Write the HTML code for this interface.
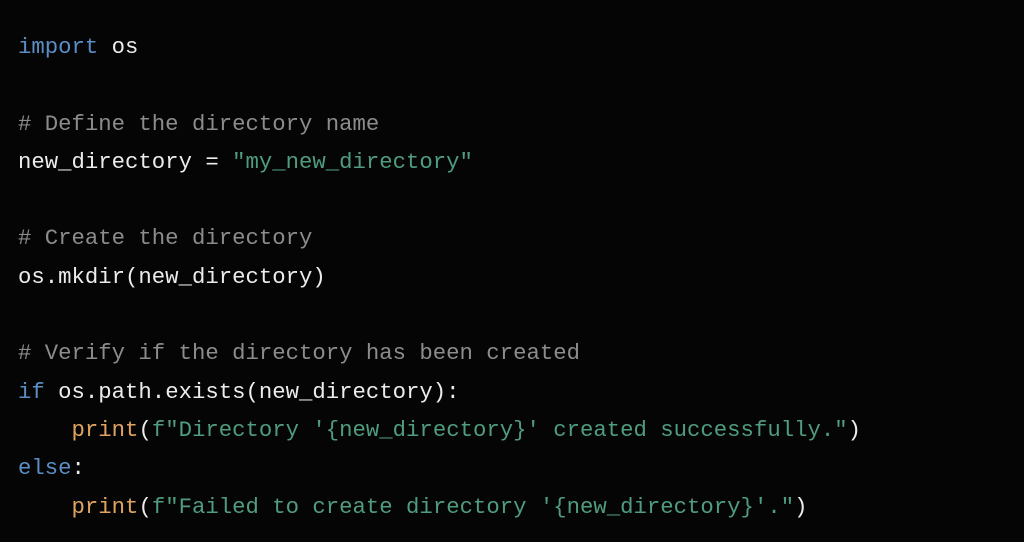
<!DOCTYPE html>
<html><head><meta charset="utf-8"><style>
html,body{margin:0;padding:0;background:#050505;width:1024px;height:542px;overflow:hidden}
pre{margin:0;position:absolute;left:18px;top:28px;font-family:"Liberation Mono",monospace;font-size:22.3px;line-height:38.3px;color:#ececec;letter-spacing:0}
.k{color:#5b8ec4}.c{color:#8c8c8c}.s{color:#4f9c7f}.f{color:#e0a462}
</style></head><body>
<pre><span class="k">import</span> os

<span class="c"># Define the directory name</span>
new_directory = <span class="s">"my_new_directory"</span>

<span class="c"># Create the directory</span>
os.mkdir(new_directory)

<span class="c"># Verify if the directory has been created</span>
<span class="k">if</span> os.path.exists(new_directory):
    <span class="f">print</span>(<span class="s">f"Directory '{new_directory}' created successfully."</span>)
<span class="k">else</span>:
    <span class="f">print</span>(<span class="s">f"Failed to create directory '{new_directory}'."</span>)</pre>
</body></html>
